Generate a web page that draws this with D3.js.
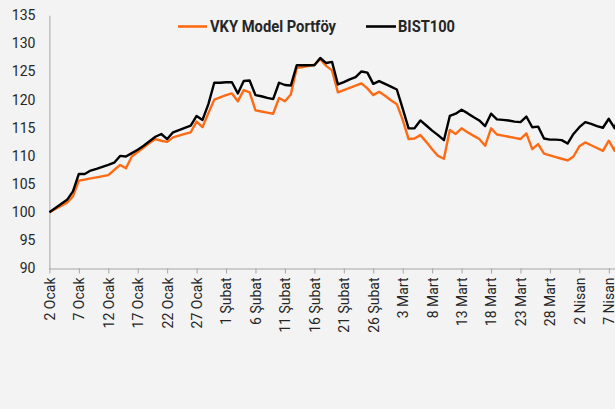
<!DOCTYPE html>
<html>
<head>
<meta charset="utf-8">
<script src="https://cdn.jsdelivr.net/npm/d3@7"></script>
<style>
  html, body { margin: 0; padding: 0; background: #f3f3f3; }
  svg { display: block; }
  text { font-family: Roboto, "Noto Sans", sans-serif; }
</style>
</head>
<body>
<svg id="chart" width="615" height="409"></svg>
<script>
// ---- data ----
const dates = [
  "2025-01-02","2025-01-05","2025-01-06","2025-01-07","2025-01-08","2025-01-09","2025-01-10",
  "2025-01-12","2025-01-13","2025-01-14","2025-01-15","2025-01-16","2025-01-17","2025-01-18","2025-01-19","2025-01-20","2025-01-21",
  "2025-01-22","2025-01-23","2025-01-24","2025-01-25","2025-01-26","2025-01-27","2025-01-28","2025-01-29","2025-01-30","2025-01-31",
  "2025-02-01","2025-02-02","2025-02-03","2025-02-04","2025-02-05","2025-02-06","2025-02-07","2025-02-08","2025-02-09","2025-02-10",
  "2025-02-11","2025-02-12","2025-02-13","2025-02-14","2025-02-15","2025-02-16","2025-02-17","2025-02-18","2025-02-19","2025-02-20",
  "2025-02-21","2025-02-22","2025-02-23","2025-02-24","2025-02-25","2025-02-26","2025-02-27","2025-02-28","2025-03-01","2025-03-02",
  "2025-03-03","2025-03-04","2025-03-05","2025-03-06","2025-03-07","2025-03-08","2025-03-09","2025-03-10","2025-03-11","2025-03-12",
  "2025-03-13","2025-03-14","2025-03-15","2025-03-16","2025-03-17","2025-03-18","2025-03-19","2025-03-20","2025-03-21","2025-03-22",
  "2025-03-23","2025-03-24","2025-03-25","2025-03-26","2025-03-27","2025-03-28","2025-03-29","2025-03-30","2025-03-31","2025-04-01",
  "2025-04-02","2025-04-03","2025-04-04","2025-04-05","2025-04-06","2025-04-07","2025-04-08","2025-04-09"
];
const bist100 = [
  100, 102.2, 103.7, 106.8, 106.8, 107.4, 107.7,
  108.4, 108.8, 110.0, 109.9, 110.5, 111.1, 111.8, 112.6, 113.4, 113.9,
  113.0, 114.2, 114.6, 115.0, 115.4, 117.1, 116.4, 119.2, 123.0, 123.0,
  123.1, 123.1, 121.1, 123.3, 123.4, 120.8, 120.6, 120.3, 120.1, 123.0,
  122.6, 122.5, 126.1, 126.1, 126.1, 126.1, 127.4, 126.5, 126.7, 122.7,
  123.1, 123.6, 124.0, 125.0, 124.8, 122.8, 123.3, 122.8, 122.3, 121.8,
  118.4, 114.9, 114.9, 116.3, 115.4, 114.5, 113.7, 112.8, 117.1, 117.5,
  118.2, 117.6, 116.9, 116.3, 115.3, 117.5, 116.5, 116.4, 116.3, 116.1,
  116.0, 117.0, 115.1, 115.2, 113.1, 112.9, 112.9, 112.8, 112.2, 113.9,
  115.1, 116.0, 115.7, 115.3, 115.0, 116.6, 114.9, 118.5
];
const vkyModel = [
  100, 101.7, 102.8, 105.6, 105.8, 106.0, 106.2,
  106.6, 107.5, 108.4, 107.8, 109.9, 110.7, 111.5, 112.3, 113.0, 112.7,
  112.5, 113.3, 113.6, 113.9, 114.2, 116.1, 115.1, 117.6, 120.0, 120.4,
  120.8, 121.1, 119.7, 121.7, 121.3, 118.1, 117.9, 117.7, 117.5, 120.3,
  119.7, 120.9, 125.6, 125.8, 126.0, 126.2, 127.2, 126.0, 125.2, 121.3,
  121.7, 122.1, 122.5, 122.9, 122.0, 120.8, 121.4, 120.7, 119.9, 119.2,
  116.4, 113.0, 113.1, 113.7, 112.5, 111.2, 110.0, 109.5, 114.6, 113.9,
  114.9, 114.2, 113.6, 113.0, 111.8, 114.9, 113.8, 113.6, 113.4, 113.2,
  113.0, 114.0, 111.2, 112.1, 110.4, 110.1, 109.8, 109.5, 109.2, 109.9,
  111.7, 112.4, 111.9, 111.4, 110.9, 112.7, 110.9, 114.5
];
const seriesNames = ["VKY Model Portföy", "BIST100"];
const seriesColors = ["#ff6a14", "#000000"];
const monthNames = ["Ocak", "Şubat", "Mart", "Nisan"];
const yTicks = [90, 95, 100, 105, 110, 115, 120, 125, 130, 135];
const xTickStart = "2025-01-02";
const xTickEnd = "2025-04-08";

// ---- drawing ----
const svg = d3.select("#chart");
const parse = d3.utcParse("%Y-%m-%d");
const pts = dates.map((d, i) => ({ date: parse(d), vky: vkyModel[i], bist: bist100[i] }));

const x = d3.scaleUtc()
  .domain([parse("2025-01-02"), parse("2025-04-07")])
  .range([49.4, 608.8]);
const y = d3.scaleLinear().domain([90, 135]).range([268.5, 15.2]);

const axisColor = "#a6a6a6";
const textColor = "#262626";

// x axis
const xTickVals = d3.utcDay.range(parse(xTickStart), parse(xTickEnd), 5);
const gx = svg.append("g").attr("transform", `translate(0,${y(90)})`)
  .call(d3.axisBottom(x).tickValues(xTickVals).tickSize(5).tickSizeOuter(0)
    .tickFormat(d => `${d.getUTCDate()} ${monthNames[d.getUTCMonth()]}`));
gx.select(".domain").attr("stroke", axisColor).attr("d", `M49.4,0.5H615`);
gx.selectAll(".tick line").attr("stroke", axisColor);
gx.selectAll(".tick text")
  .attr("fill", textColor)
  .style("font-size", "14px")
  .attr("transform", "rotate(-90)")
  .attr("text-anchor", "end")
  .attr("x", -9)
  .attr("y", 0)
  .attr("dy", "0.35em");

// y axis
const gy = svg.append("g").attr("transform", `translate(49.4,0)`)
  .call(d3.axisLeft(y).tickValues(yTicks).tickSize(0).tickPadding(14).tickSizeOuter(0));
gy.select(".domain").attr("stroke", axisColor);
gy.selectAll(".tick text").attr("fill", textColor).style("font-size", "14px");

// lines
const lineVky = d3.line().x(d => x(d.date)).y(d => y(d.vky));
const lineBist = d3.line().x(d => x(d.date)).y(d => y(d.bist));
svg.append("path").datum(pts).attr("d", lineVky)
  .attr("fill", "none").attr("stroke", seriesColors[0]).attr("stroke-width", 2.4)
  .attr("stroke-linejoin", "round");
svg.append("path").datum(pts).attr("d", lineBist)
  .attr("fill", "none").attr("stroke", seriesColors[1]).attr("stroke-width", 2.4)
  .attr("stroke-linejoin", "round");

// legend
const legend = [
  { x1: 178, x2: 207, tx: 210, tw: 126 },
  { x1: 366, x2: 396, tx: 398, tw: 57 }
];
legend.forEach((l, i) => {
  svg.append("line").attr("x1", l.x1).attr("x2", l.x2).attr("y1", 26.5).attr("y2", 26.5)
    .attr("stroke", seriesColors[i]).attr("stroke-width", 2.6);
  svg.append("text").attr("x", l.tx).attr("y", 32)
    .attr("fill", textColor).style("font-size", "16px").style("font-weight", "bold")
    .attr("textLength", l.tw).attr("lengthAdjust", "spacingAndGlyphs")
    .text(seriesNames[i]);
});
</script>
</body>
</html>
